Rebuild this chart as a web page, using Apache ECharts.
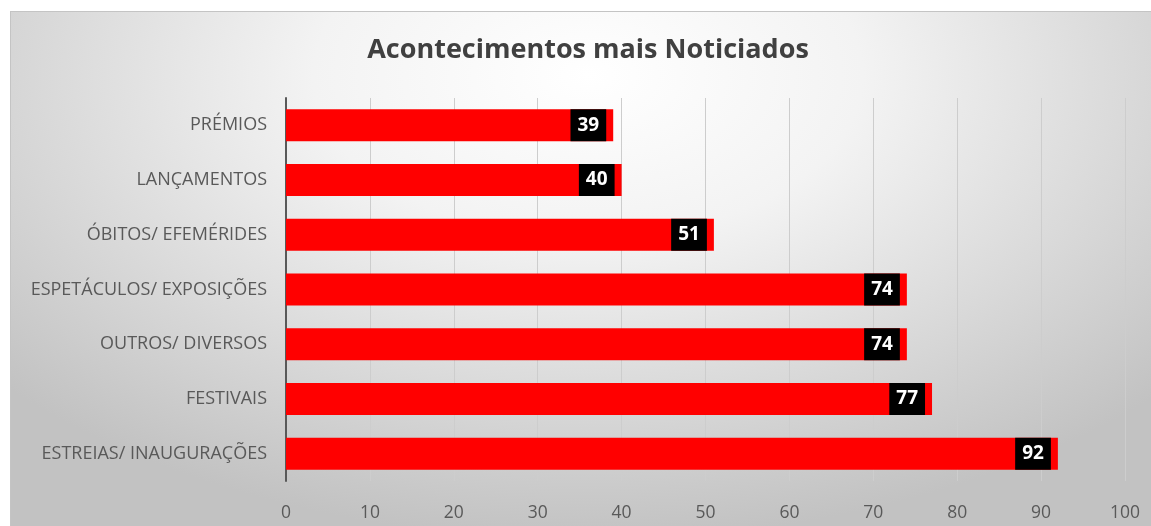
<!DOCTYPE html>
<html>
<head>
<meta charset="utf-8">
<script src="https://cdn.jsdelivr.net/npm/echarts@6/dist/echarts.min.js"></script>
<style>
  html, body { margin: 0; padding: 0; background: #fff; overflow: hidden; }
  #chart {
    position: absolute; left: 10px; top: 11px;
    width: 1156px; height: 530px;
    box-sizing: border-box;
    border: 1px solid #c4c4c4;
    background: radial-gradient(ellipse 68% 88% at 50% 12%, #ffffff 0%, #f3f3f3 35%, #c2c2c2 100%);
  }
</style>
</head>
<body>
<div id="chart"></div>
<script>
// categories, top to bottom
const categories = [
  'PRÉMIOS',
  'LANÇAMENTOS',
  'ÓBITOS/ EFEMÉRIDES',
  'ESPETÁCULOS/ EXPOSIÇÕES',
  'OUTROS/ DIVERSOS',
  'FESTIVAIS',
  'ESTREIAS/ INAUGURAÇÕES'
];
const values = [39, 40, 51, 74, 74, 77, 92];
const chartTitle = 'Acontecimentos mais Noticiados';

const myChart = echarts.init(document.getElementById('chart'), null, { renderer: 'canvas' });

const option = {
  backgroundColor: 'transparent',
  animation: false,
  title: {
    text: chartTitle,
    left: 'center',
    top: 20,
    textStyle: {
      fontFamily: 'Open Sans',
      fontSize: 27,
      fontWeight: 'bold',
      color: '#404040'
    }
  },
  grid: {
    left: 275,
    right: 40,
    top: 86,
    bottom: 59,
    containLabel: false
  },
  xAxis: {
    type: 'value',
    min: 0,
    max: 100,
    interval: 10,
    axisLine: { show: false },
    axisTick: { show: false },
    axisLabel: {
      color: '#595959',
      fontFamily: 'Open Sans',
      fontSize: 17.5,
      margin: 23
    },
    splitLine: {
      lineStyle: { color: '#cdcdcd', width: 1 }
    }
  },
  yAxis: {
    type: 'category',
    data: categories,
    inverse: true,
    axisLine: {
      lineStyle: { color: '#595959', width: 2 }
    },
    axisTick: { show: false },
    axisLabel: {
      color: '#595959',
      fontFamily: 'Open Sans',
      fontSize: 18,
      margin: 19
    }
  },
  series: [
    {
      type: 'bar',
      data: values,
      barWidth: 32,
      itemStyle: { color: '#ff0000' },
      label: {
        show: true,
        position: 'insideRight',
        distance: 7,
        backgroundColor: '#000000',
        color: '#ffffff',
        fontFamily: 'Open Sans',
        fontWeight: 'bold',
        fontSize: 19,
        lineHeight: 16,
        padding: [8, 7, 8, 7]
      }
    }
  ]
};

myChart.setOption(option);
</script>
</body>
</html>
